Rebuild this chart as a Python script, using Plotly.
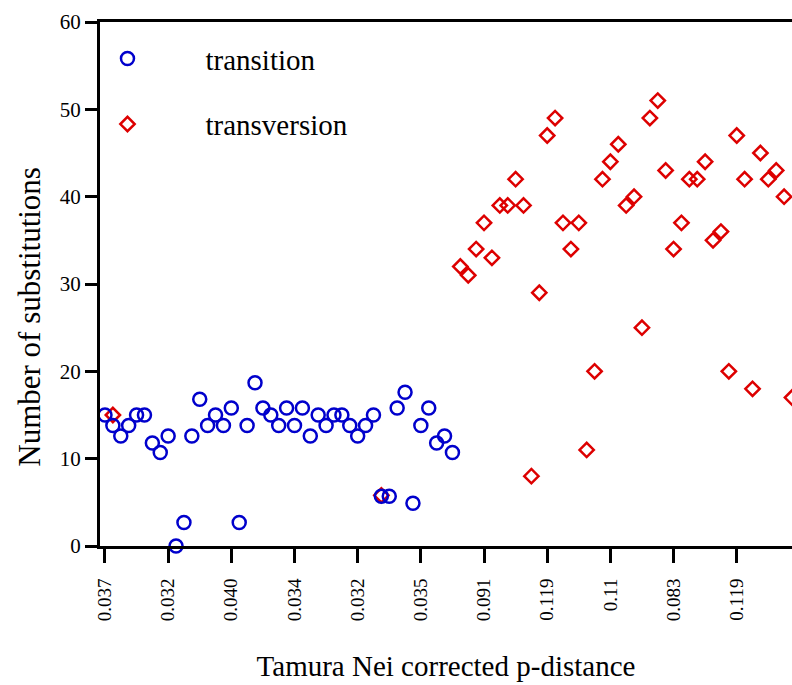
import plotly.graph_objects as go

# ---- data ----
transition_x = list(range(0, 45))
transition_y = [15.0, 13.8, 12.6, 13.8, 15.0, 15.0, 11.8, 10.7, 12.6, 0.0,
                2.7, 12.6, 16.8, 13.8, 15.0, 13.8, 15.8, 2.7, 13.8, 18.7,
                15.8, 15.0, 13.8, 15.8, 13.8, 15.8, 12.6, 15.0, 13.8, 15.0,
                15.0, 13.8, 12.6, 13.8, 15.0, 5.7, 5.7, 15.8, 17.6, 4.9,
                13.8, 15.8, 11.8, 12.6, 10.7]

transversion_x = [1, 35] + list(range(45, 88))
transversion_y = [15.0, 5.8,
                  32, 31, 34, 37, 33, 39, 39, 42, 39, 8,
                  29, 47, 49, 37, 34, 37, 11, 20, 42, 44,
                  46, 39, 40, 25, 49, 51, 43, 34, 37, 42,
                  42, 44, 35, 36, 20, 47, 42, 18, 45, 42,
                  43, 40, 17]

tick_positions = [0, 8, 16, 24, 32, 40, 48, 56, 64, 72, 80]
tick_labels = ["0.037", "0.032", "0.040", "0.034", "0.032", "0.035",
               "0.091", "0.119", "0.11", "0.083", "0.119"]

FONT = "Liberation Serif, Times New Roman, serif"
BLUE = "#0000cc"
RED = "#dd0000"

fig = go.Figure()
fig.add_trace(go.Scatter(
    x=transversion_x, y=transversion_y, mode="markers", name="transversion",
    marker=dict(symbol="diamond-open", size=11, color=RED, line=dict(width=2.5, color=RED)),
    cliponaxis=False, legend="legend2", showlegend=True))
fig.add_trace(go.Scatter(
    x=transition_x, y=transition_y, mode="markers", name="transition",
    marker=dict(symbol="circle-open", size=13, color=BLUE, line=dict(width=2.5, color=BLUE)),
    cliponaxis=False, legend="legend", showlegend=True))

fig.update_layout(
    width=792, height=685, showlegend=True,
    margin=dict(l=100, r=0, t=22, b=139, autoexpand=False),
    paper_bgcolor="white", plot_bgcolor="white",
    font=dict(family=FONT, color="black"),
    legend=dict(x=-0.073, y=0.93,
                xanchor="left", yanchor="middle", itemwidth=146,
                font=dict(size=29, family=FONT), bgcolor="rgba(0,0,0,0)"),
    legend2=dict(x=-0.073, y=0.805,
                 xanchor="left", yanchor="middle", itemwidth=146,
                 font=dict(size=29, family=FONT), bgcolor="rgba(0,0,0,0)"),
    xaxis=dict(
        range=[-0.63, 87.0], tickmode="array", tickvals=tick_positions, ticktext=tick_labels,
        tickangle=-90, ticks="outside", ticklen=14, tickwidth=2.5, tickcolor="black",
        showline=True, linewidth=3, linecolor="black", mirror=True,
        showgrid=False, zeroline=False, ticklabelstandoff=8,
        tickfont=dict(size=19, family=FONT),
        title=dict(text="Tamura Nei corrected p-distance", font=dict(size=29, family=FONT), standoff=36)),
    yaxis=dict(
        range=[0, 60], tickvals=[0, 10, 20, 30, 40, 50, 60],
        ticks="outside", ticklen=12, tickwidth=2.5, tickcolor="black",
        showline=True, linewidth=3, linecolor="black",
        showgrid=False, zeroline=False,
        tickfont=dict(size=21, family=FONT)),
    annotations=[dict(text="Number of substitutions", textangle=-90,
                      xref="paper", yref="paper", x=-0.103, y=0.437,
                      xanchor="center", yanchor="middle", showarrow=False,
                      font=dict(size=31, family=FONT, color="black"))],
)

fig.write_html("out.html")
